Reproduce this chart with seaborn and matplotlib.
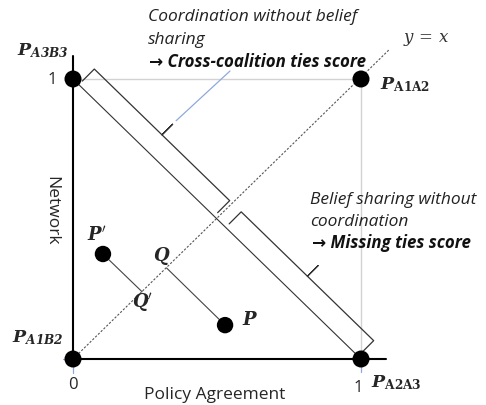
import matplotlib
matplotlib.use('Agg')
import matplotlib.pyplot as plt
import numpy as np
import seaborn as sns

sns.set_theme(style='white')
plt.rcParams['font.family'] = ['Open Sans', 'DejaVu Sans']
plt.rcParams['mathtext.fontset'] = 'dejavuserif'

# corners of the unit square
CORNER_X = [0, 0, 1, 1]
CORNER_Y = [0, 1, 0, 1]
CORNER_LABELS = [r'$\mathbfit{P}_{\mathbfit{A1B2}}$', r'$\mathbfit{P}_{\mathbfit{A3B3}}$',
                 r'$\mathbfit{P}_{\mathbf{A2A3}}$', r'$\mathbfit{P}_{\mathbf{A1A2}}$']

# example points and their projections on y = x
POINT_X = [0.104, 0.528]
POINT_Y = [0.375, 0.121]
PROJ_X = [0.240, 0.325]
PROJ_Y = [0.240, 0.325]

TICK_LABELS = ['0', '1']

PX_X, PX_Y = 288, 280  # pixels per data unit

fig = plt.figure(figsize=(4.86, 4.06), dpi=100)
ax = fig.add_axes([0, 0, 1, 1])
ax.set_xlim(-73 / PX_X, (486 - 73) / PX_X)
ax.set_ylim(-(406 - 360) / PX_Y, 360 / PX_Y)
ax.axis('off')

# light grey box edges
ax.plot([0, 1], [1, 1], color='#d2d2d2', lw=1, zorder=1)
ax.plot([1, 1], [0, 1], color='#d2d2d2', lw=1, zorder=1)

# faint blue tick marks at the origin and at x = 1
ax.plot([0, 0], [-0.025, -0.05], color='#8eaadb', lw=0.9, zorder=1)
ax.plot([1, 1], [-0.025, -0.045], color='#8eaadb', lw=0.9, zorder=1)
ax.plot([-0.035, -0.025], [0, 0], color='#8eaadb', lw=0.9, zorder=1)

# axes
ax.plot([0, 1.087], [0, 0], color='black', lw=1.5, zorder=2)
ax.plot([0, 0], [0, 1.082], color='black', lw=1.5, zorder=2)

# y = x and the anti-diagonal
ax.plot([0, 1.10], [0, 1.107], color='#555555', lw=0.8, dashes=(2, 1.5), zorder=2)
ax.plot([0, 1], [1, 0], color='#333333', lw=0.8, zorder=2)

# perpendiculars from P to Q
for px, py, qx, qy in zip(POINT_X, POINT_Y, PROJ_X, PROJ_Y):
    ax.plot([px, qx], [py, qy], color='#444444', lw=0.8, zorder=2)

# unit normal to the anti-diagonal, one pixel long, in data units
NRM = np.array([1 / PX_X, 1 / PX_Y]) / np.sqrt(2)


def brace(t0, t1, end=5, line=22, tip=37):
    tm = (t0 + t1) / 2
    a = np.array([t0, 1 - t0])
    b = np.array([t1, 1 - t1])
    m = np.array([tm, 1 - tm])
    pts = np.array([a + NRM * end, a + NRM * line, m + NRM * line, m + NRM * tip,
                    m + NRM * line, b + NRM * line, b + NRM * end])
    ax.plot(pts[:, 0], pts[:, 1], color='#333333', lw=0.9, zorder=2,
            solid_joinstyle='round')
    return m + NRM * tip


tip1 = brace(0.02, 0.49)
brace(0.53, 0.99)

# callout from the upper text
start = tip1 + NRM * 5
ax.plot([start[0], (230 - 73) / PX_X], [start[1], (360 - 72) / PX_Y],
        color='#8eaadb', lw=0.9, zorder=2)

sns.scatterplot(x=CORNER_X, y=CORNER_Y, s=150, color='black', edgecolor='none', ax=ax, zorder=4)
sns.scatterplot(x=POINT_X, y=POINT_Y, s=140, color='black', edgecolor='none', ax=ax, zorder=4)

# corner labels
label_pos = [(-0.212, 0.079), (-0.194, 1.104), (1.035, -0.082), (1.066, 0.982)]
for (lx, ly), lab in zip(label_pos, CORNER_LABELS):
    ax.text(lx, ly, lab, fontsize=12.5, ha='left', va='center')

# point labels
ax.text(0.083, 0.446, r"$\mathbfit{P}'$", fontsize=13, ha='center', va='center')
ax.text(0.615, 0.143, r'$\mathbfit{P}$', fontsize=13, ha='center', va='center')
ax.text(0.309, 0.371, r'$\mathbfit{Q}$', fontsize=13, ha='center', va='center')
ax.text(0.243, 0.204, r"$\mathbfit{Q}'$", fontsize=13, ha='center', va='center')

# tick labels
ax.text(0, -0.09, TICK_LABELS[0], fontsize=12, ha='center', va='center')
ax.text(0.99, -0.1, TICK_LABELS[1], fontsize=12, ha='center', va='center')
ax.text(-0.073, 1.0, TICK_LABELS[1], fontsize=12, ha='center', va='center')

ax.text(0.493, -0.125, 'Policy Agreement', fontsize=12.5, ha='center', va='center')
ax.text(-0.076, 0.532, 'Network', fontsize=12.5, ha='center', va='center', rotation=270)

ax.text(1.146, 1.143, r'$y\,=\,x$', fontsize=12, ha='left', va='center', color='#333333')

# annotation texts
it = dict(fontsize=12.5, style='italic', ha='left', va='baseline', color='#222222')
bd = dict(fontsize=12.2, style='italic', weight='bold', ha='left', va='baseline', color='#111111')
ax.text(0.26, 1.209, 'Coordination without belief', **it)
ax.text(0.26, 1.130, 'sharing', **it)
ax.text(0.265, 1.046, '\u2192 Cross-coalition ties score', **bd)

ax.text(0.823, 0.557, 'Belief sharing without', **it)
ax.text(0.823, 0.479, 'coordination', **it)
ax.text(0.83, 0.400, '\u2192 Missing ties score', **bd)

fig.savefig('out.png', dpi=100)
